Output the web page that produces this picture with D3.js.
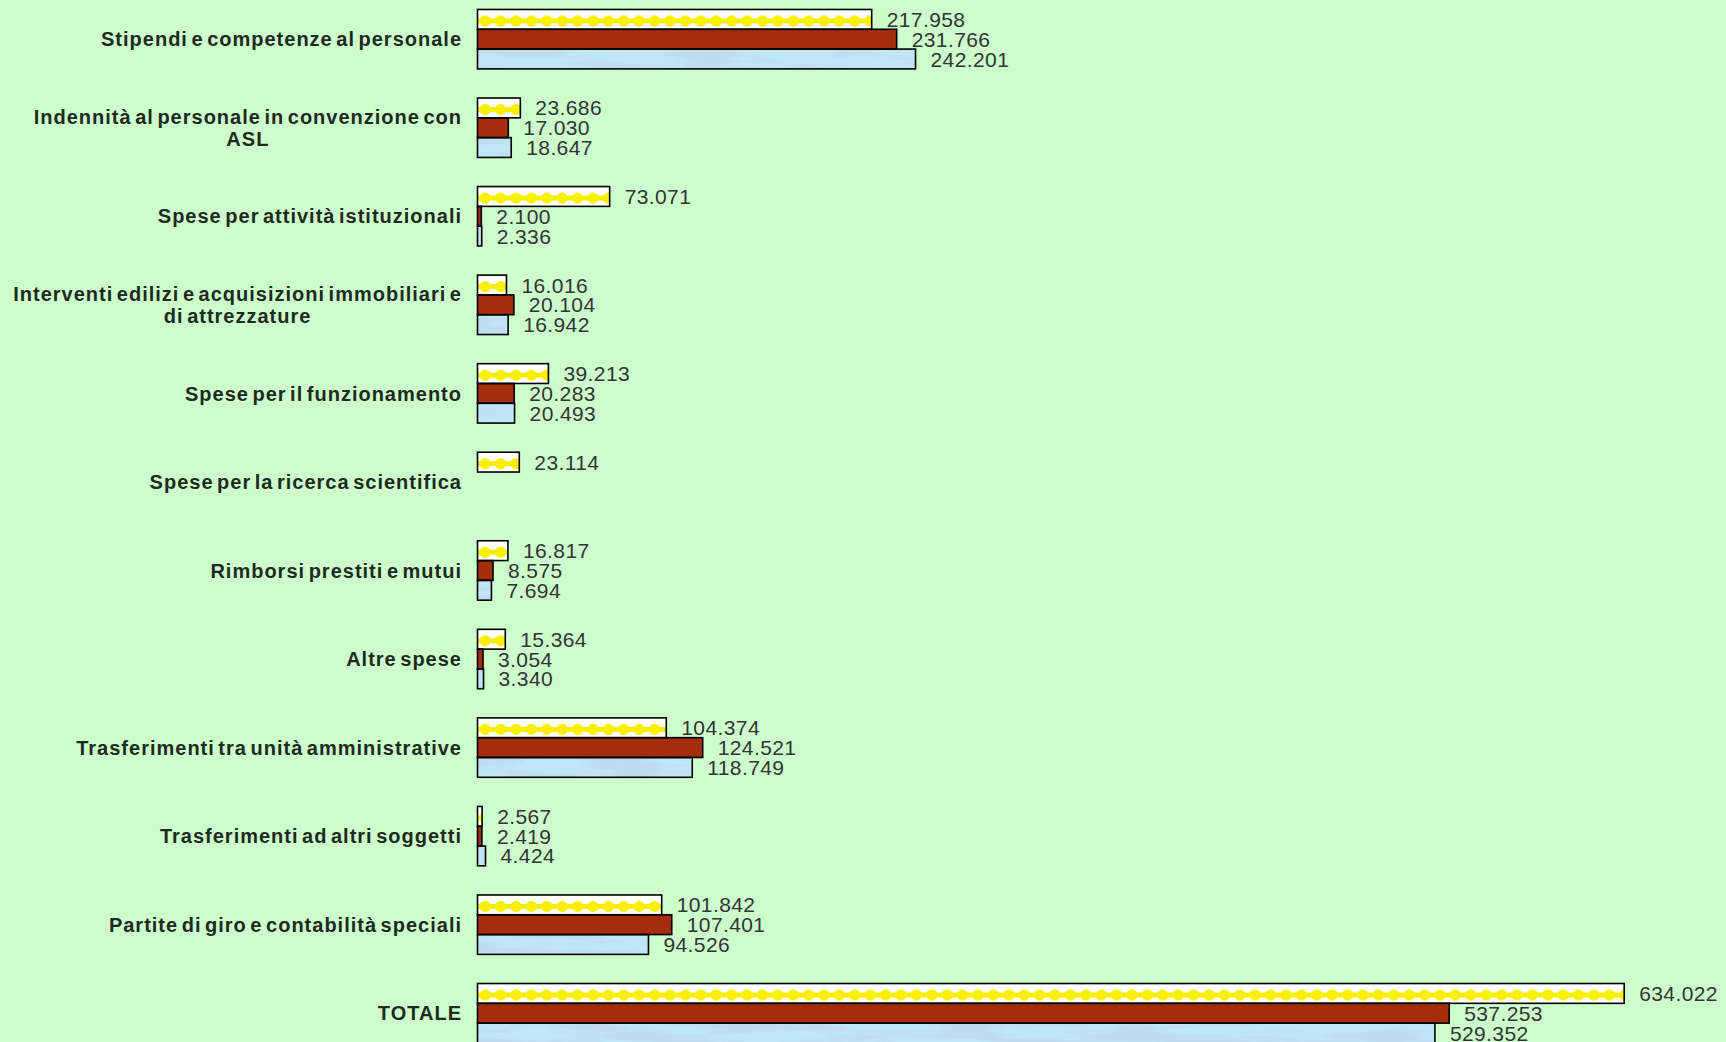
<!DOCTYPE html>
<html>
<head>
<meta charset="utf-8">
<script src="https://cdn.jsdelivr.net/npm/d3@7"></script>
<style>
  html, body { margin: 0; padding: 0; background: #ccffcc; overflow: hidden; }
  svg { display: block; }
  .cat { font-family: "Liberation Sans", Arial, sans-serif; font-weight: bold; font-size: 20px; fill: #1e2a1e; letter-spacing: 1px; word-spacing: -3px; }
  .val { font-family: "Liberation Sans", Arial, sans-serif; font-size: 21px; fill: #333; letter-spacing: 0.4px; }
</style>
</head>
<body>
<div id="chart"></div>
<script>
// categories (line breaks as in the original wrapped labels)
var categories = [
    "Stipendi e competenze al personale",
    "Indennità al personale in convenzione con\nASL",
    "Spese per attività istituzionali",
    "Interventi edilizi e acquisizioni immobiliari e\ndi attrezzature",
    "Spese per il funzionamento",
    "Spese per la ricerca scientifica",
    "Rimborsi prestiti e mutui",
    "Altre spese",
    "Trasferimenti tra unità amministrative",
    "Trasferimenti ad altri soggetti",
    "Partite di giro e contabilità speciali",
    "TOTALE"
];

// three series, top to bottom inside each group
var seriesYellow = [217958, 23686, 73071, 16016, 39213, 23114, 16817, 15364, 104374, 2567, 101842, 634022];
var seriesRed    = [231766, 17030, 2100, 20104, 20283, null, 8575, 3054, 124521, 2419, 107401, 537253];
var seriesBlue   = [242201, 18647, 2336, 16942, 20493, null, 7694, 3340, 118749, 4424, 94526, 529352];

var WIDTH = 1726, HEIGHT = 1042;
var X0 = 477.5, PX_PER_UNIT = 0.0018086, X_MAX = 700000;
var LABEL_RIGHT = 462;

var itLocale = d3.formatLocale({decimal: ",", thousands: ".", grouping: [3], currency: ["€", ""]});
var fmt = itLocale.format(",.0f");

var svg = d3.select("#chart")
    .append("svg")
        .attr("width", WIDTH)
        .attr("height", HEIGHT);

svg.append("rect")
    .attr("width", WIDTH)
    .attr("height", HEIGHT)
    .attr("fill", "#ccffcc");

/* Scales */
var x = d3.scaleLinear()
    .domain([0, X_MAX])
    .range([X0, X0 + X_MAX * PX_PER_UNIT]);

var pad = 0.329;
var y = d3.scaleBand()
    .domain(categories)
    .range([-5.1, -5.1 + 88.55 * categories.length])
    .paddingInner(pad)
    .paddingOuter(pad / 2);

var series = [
    {key: "yellow", values: seriesYellow},
    {key: "red",    values: seriesRed},
    {key: "blue",   values: seriesBlue}
];

var y1 = d3.scaleBand()
    .domain(series.map(function(s){ return s.key; }))
    .range([0, y.bandwidth()]);

var barH = y1.bandwidth();

/* Fills */
var defs = svg.append("defs");

var dots = defs.append("pattern")
    .attr("id", "dots")
    .attr("patternUnits", "userSpaceOnUse")
    .attr("x", X0)
    .attr("y", y(categories[0]) + y1("yellow"))
    .attr("width", 15.4)
    .attr("height", y.step());
dots.append("rect")
    .attr("width", 15.4)
    .attr("height", y.step())
    .attr("fill", "#ffffff");
dots.append("rect")
    .attr("y", barH * 0.58 - 2.5)
    .attr("width", 15.4)
    .attr("height", 5)
    .attr("fill", "#f4ee00");
dots.append("circle")
    .attr("cx", 7.7)
    .attr("cy", barH * 0.58)
    .attr("r", 5.6)
    .attr("fill", "#f8f000");

var marble = defs.append("filter")
    .attr("id", "marble")
    .attr("x", 0).attr("y", 0).attr("width", 1).attr("height", 1);
marble.append("feTurbulence")
    .attr("type", "fractalNoise")
    .attr("baseFrequency", "0.012 0.09")
    .attr("numOctaves", 3)
    .attr("seed", 4)
    .attr("result", "noise");
marble.append("feColorMatrix")
    .attr("in", "noise")
    .attr("type", "matrix")
    .attr("values", "0 0 0 0 0.53  0 0 0 0 0.72  0 0 0 0 0.87  6 0 0 0 -2.6")
    .attr("result", "tint");
marble.append("feComposite")
    .attr("in", "tint")
    .attr("in2", "SourceGraphic")
    .attr("operator", "in")
    .attr("result", "tintClip");
var merge = marble.append("feMerge");
merge.append("feMergeNode").attr("in", "SourceGraphic");
merge.append("feMergeNode").attr("in", "tintClip");

var fills = {yellow: "url(#dots)", red: "#a52e0a", blue: "#bfe7f6"};

/* Bars */
var rows = [];
categories.forEach(function(c, i){
    series.forEach(function(s){
        if (s.values[i] != null) rows.push({cat: c, key: s.key, value: s.values[i]});
    });
});

var main = svg.append("g").attr("class", "main");

main.selectAll(".bar")
    .data(rows)
    .enter()
    .append("rect")
        .attr("class", "bar")
        .attr("x", x(0))
        .attr("y", function(d){ return y(d.cat) + y1(d.key); })
        .attr("width", function(d){ return x(d.value) - x(0); })
        .attr("height", barH)
        .attr("fill", function(d){ return fills[d.key]; })
        .attr("filter", function(d){ return d.key === "blue" ? "url(#marble)" : null; });

main.selectAll(".outline")
    .data(rows)
    .enter()
    .append("rect")
        .attr("class", "outline")
        .attr("x", x(0))
        .attr("y", function(d){ return y(d.cat) + y1(d.key); })
        .attr("width", function(d){ return x(d.value) - x(0); })
        .attr("height", barH)
        .attr("fill", "none")
        .attr("stroke", "#000")
        .attr("stroke-width", 1.6);

/* Value labels */
main.selectAll(".val")
    .data(rows)
    .enter()
    .append("text")
        .attr("class", "val")
        .attr("x", function(d){ return x(d.value) + 15; })
        .attr("y", function(d){ return y(d.cat) + y1(d.key) + barH / 2; })
        .attr("dy", "0.36em")
        .text(function(d){ return fmt(d.value); });

/* Category labels: wrapped lines centered, block right-aligned */
var catG = svg.append("g").attr("class", "cats");
categories.forEach(function(c){
    var lines = c.split("\n");
    var lineH = 22;
    var cy = y(c) + y.bandwidth() / 2;
    var t = catG.append("text")
        .attr("class", "cat")
        .attr("text-anchor", "middle");
    var spans = lines.map(function(l, k){
        return t.append("tspan")
            .attr("y", cy + (k - (lines.length - 1) / 2) * lineH)
            .attr("dy", "0.36em")
            .text(l);
    });
    var maxW = d3.max(spans, function(s){ return s.node().getComputedTextLength(); });
    spans.forEach(function(s){ s.attr("x", LABEL_RIGHT - maxW / 2); });
});
</script>
</body>
</html>
